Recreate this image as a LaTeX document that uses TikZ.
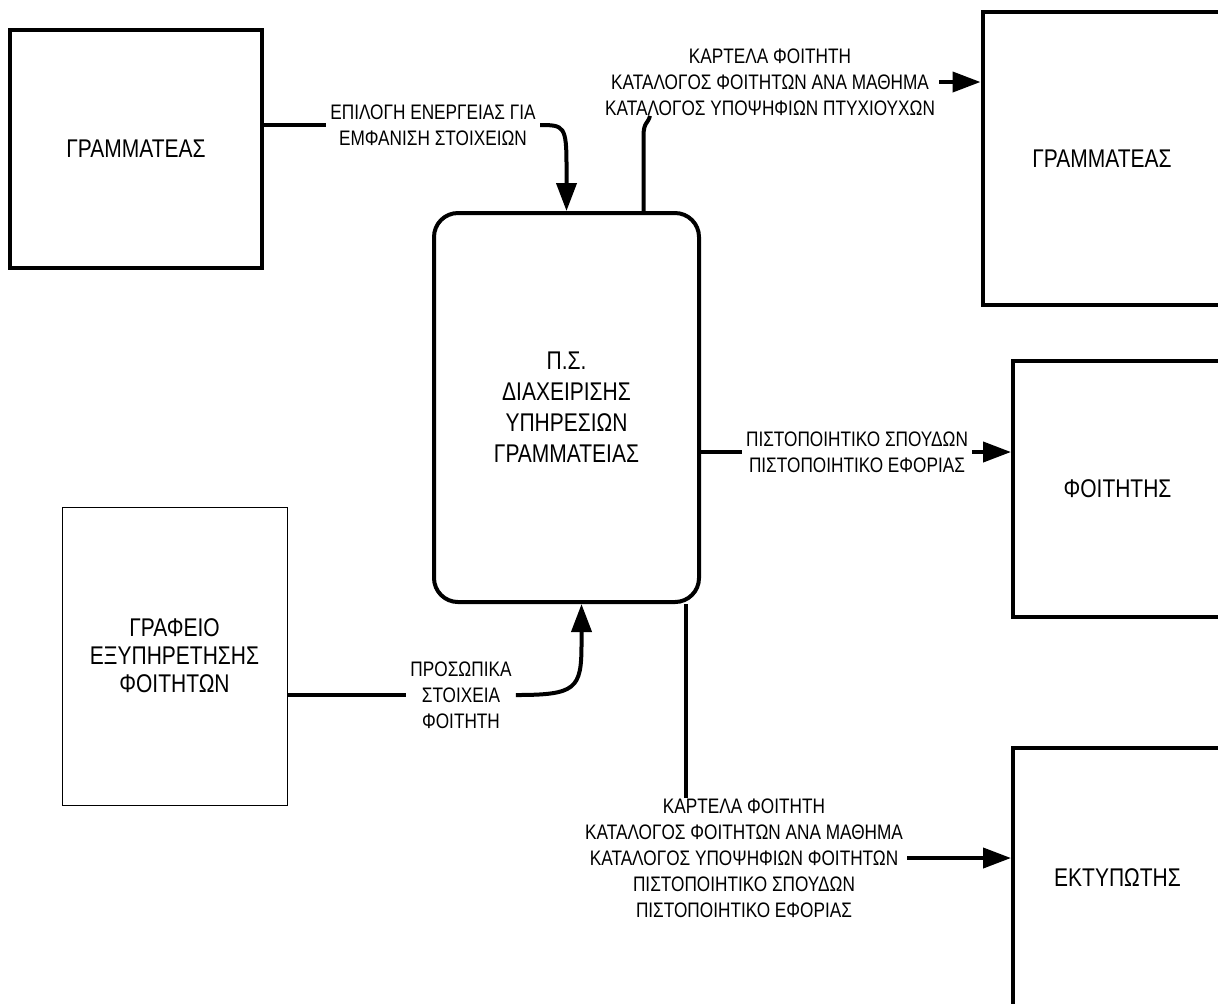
\documentclass[tikz,border=0pt]{standalone}
\usepackage{fontspec}
\setmainfont{Liberation Sans}[FakeStretch=0.82]
\usetikzlibrary{arrows.meta,calc}

\begin{document}
\begin{tikzpicture}[x=0.5pt, y=-0.5pt,
    entity/.style={draw, line width=2pt, align=center, font=\fontsize{12.8}{15}\selectfont},
    office/.style={draw, line width=0.5pt, align=center, font=\fontsize{12.8}{14}\selectfont},
    process/.style={draw, line width=2pt, rounded corners=12pt, align=center, font=\fontsize{12.8}{15.5}\selectfont},
    flowlabel/.style={align=center, inner xsep=2pt, inner ysep=0pt, font=\fontsize{10.5}{13}\selectfont},
    flow/.style={line width=2pt},
    arrow/.style={flow, -{Triangle[length=14pt, width=10pt]}}]
  \useasboundingbox (0,0) rectangle (1218,1003);

  % external entities and the system
  \node[entity, minimum width=126pt, minimum height=119pt] (gram1) at (136,149) {ΓΡΑΜΜΑΤΕΑΣ};
  \node[entity, minimum width=119.5pt, minimum height=146.5pt] (gram2) at (1102,158.5) {ΓΡΑΜΜΑΤΕΑΣ};
  \node[entity, minimum width=104.5pt, minimum height=128pt] (foit) at (1117.5,489) {ΦΟΙΤΗΤΗΣ};
  \node[entity, minimum width=104.5pt, minimum height=129.5pt] (ektyp) at (1117.5,877.5) {ΕΚΤΥΠΩΤΗΣ};
  \node[office, minimum width=112.5pt, minimum height=149pt] (graf) at (174.5,656) {ΓΡΑΦΕΙΟ\\ΕΞΥΠΗΡΕΤΗΣΗΣ\\ΦΟΙΤΗΤΩΝ};
  \node[process, minimum width=132.5pt, minimum height=194.5pt] (ps) at (566.5,407.5) {Π.Σ.\\ΔΙΑΧΕΙΡΙΣΗΣ\\ΥΠΗΡΕΣΙΩΝ\\ΓΡΑΜΜΑΤΕΙΑΣ};

  % flow labels
  \node[flowlabel] (lblA) at (433,125) {ΕΠΙΛΟΓΗ ΕΝΕΡΓΕΙΑΣ ΓΙΑ\\ΕΜΦΑΝΙΣΗ ΣΤΟΙΧΕΙΩΝ};
  \node[flowlabel] (lblB) at (770,82) {ΚΑΡΤΕΛΑ ΦΟΙΤΗΤΗ\\ΚΑΤΑΛΟΓΟΣ ΦΟΙΤΗΤΩΝ ΑΝΑ ΜΑΘΗΜΑ\\ΚΑΤΑΛΟΓΟΣ ΥΠΟΨΗΦΙΩΝ ΠΤΥΧΙΟΥΧΩΝ};
  \node[flowlabel] (lblC) at (857,452) {ΠΙΣΤΟΠΟΙΗΤΙΚΟ ΣΠΟΥΔΩΝ\\ΠΙΣΤΟΠΟΙΗΤΙΚΟ ΕΦΟΡΙΑΣ};
  \node[flowlabel] (lblD) at (744,858) {ΚΑΡΤΕΛΑ ΦΟΙΤΗΤΗ\\ΚΑΤΑΛΟΓΟΣ ΦΟΙΤΗΤΩΝ ΑΝΑ ΜΑΘΗΜΑ\\ΚΑΤΑΛΟΓΟΣ ΥΠΟΨΗΦΙΩΝ ΦΟΙΤΗΤΩΝ\\ΠΙΣΤΟΠΟΙΗΤΙΚΟ ΣΠΟΥΔΩΝ\\ΠΙΣΤΟΠΟΙΗΤΙΚΟ ΕΦΟΡΙΑΣ};
  \node[flowlabel] (lblE) at (461,695) {ΠΡΟΣΩΠΙΚΑ\\ΣΤΟΙΧΕΙΑ\\ΦΟΙΤΗΤΗ};

  \coordinate (b0) at ($(ps.north)+(77,0)$);
  \coordinate (d0) at ($(ps.south)+(119.5,0)$);

  % data flows
  \draw[flow] (gram1.east |- lblA) -- (lblA.west);
  \draw[arrow] (lblA.east) .. controls +(24,0) and +(0,-40) .. ($(ps.north)+(0,-45)$) -- (ps.north);
  \draw[flow] (b0) -- ++(0,-75) .. controls +(0,-14) and +(-2,8) .. ($(lblB.south)+(-120,0)$);
  \draw[arrow] (lblB.east) -- (lblB.east -| gram2.west);
  \draw[flow] (ps.east |- lblC) -- (lblC.west);
  \draw[arrow] (lblC.east) -- (lblC.east -| foit.west);
  \draw[flow] (d0) -- (d0 |- lblD.north);
  \draw[arrow] (lblD.east) -- (lblD.east -| ektyp.west);
  \draw[flow] (graf.east |- lblE) -- (lblE.west);
  \draw[arrow] (lblE.east) .. controls +(60,0) and +(0,45) .. ($(ps.south)+(15,40)$) -- ($(ps.south)+(15,0)$);
\end{tikzpicture}
\end{document}
